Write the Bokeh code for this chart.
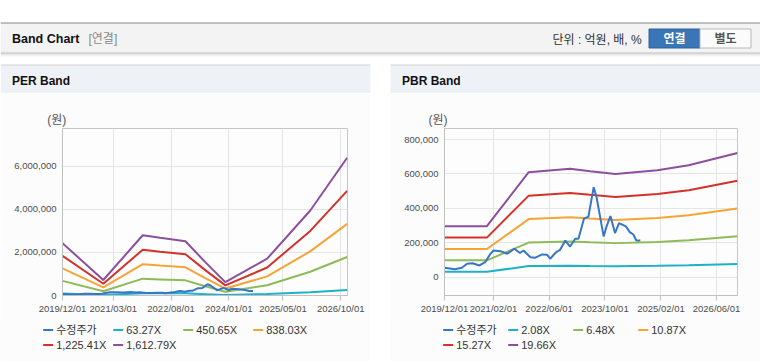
import pandas as pd
from bokeh.plotting import figure
from bokeh.layouts import column, row
from bokeh.models import (Range1d, FixedTicker, DatetimeTickFormatter, NumeralTickFormatter,
                          Label, Spacer)
from bokeh.embed import file_html
from bokeh.resources import INLINE

# ---------------- data ----------------
series_names = ["수정주가"]
per_multiples = ["63.27X", "450.65X", "838.03X", "1,225.41X", "1,612.79X"]
pbr_multiples = ["2.08X", "6.48X", "10.87X", "15.27X", "19.66X"]

per_xtick_labels = ["2019/12/01", "2021/03/01", "2022/08/01", "2024/01/01", "2025/05/01", "2026/10/01"]
pbr_xtick_labels = ["2019/12/01", "2021/02/01", "2022/06/01", "2023/10/01", "2025/02/01", "2026/06/01"]
per_yticks = [0, 2000000, 4000000, 6000000]
pbr_yticks = [0, 200000, 400000, 600000, 800000]

price_dates = ["2019-12-01", "2020-03-01", "2020-05-01", "2020-06-15", "2020-08-01", "2020-10-01",
               "2020-11-20", "2021-01-01", "2021-02-01", "2021-04-01", "2021-06-01", "2021-08-01",
               "2021-09-20", "2021-10-20", "2021-12-20", "2022-02-01", "2022-04-01", "2022-05-15",
               "2022-06-10", "2022-08-01", "2022-09-05", "2022-10-20", "2022-12-01", "2023-01-15",
               "2023-02-12", "2023-04-01", "2023-05-10", "2023-06-25", "2023-07-20", "2023-09-20",
               "2023-10-18", "2023-11-18", "2023-12-28", "2024-02-01", "2024-04-01", "2024-05-05",
               "2024-06-05", "2024-07-01", "2024-08-05"]
price_values = [55000, 46000, 55000, 78000, 81000, 68000, 87000, 132000, 155000, 151000, 136000,
                165000, 140000, 155000, 116000, 113000, 132000, 130000, 107000, 145000, 159000,
                213000, 178000, 223000, 223000, 340000, 352000, 523000, 465000, 237000, 300000,
                355000, 256000, 314000, 295000, 262000, 248000, 213000, 213000]

per_dates = ["2019-12-01", "2020-12-01", "2021-11-20", "2022-04-25", "2022-12-08", "2023-06-04",
             "2023-12-01", "2024-12-10", "2026-01-01", "2026-11-28"]
per_band_1 = [95300, 28200, 109800, 105100, 98900, 60800, 24300, 67100, 155000, 251100]
per_band_2 = [679000, 201000, 782000, 749000, 704000, 433000, 173000, 478000, 1104000, 1788000]
per_band_3 = [1263000, 374000, 1455000, 1393000, 1309000, 805000, 322000, 889000, 2052000, 3326000]
per_band_4 = [1846000, 547000, 2127000, 2036000, 1915000, 1178000, 471000, 1299000, 3001000, 4863000]
per_band_5 = [2430000, 720000, 2800000, 2680000, 2520000, 1550000, 620000, 1710000, 3950000, 6400000]

pbr_dates = ["2019-12-01", "2020-12-05", "2021-12-05", "2022-12-01", "2023-05-25", "2024-01-01",
             "2025-01-01", "2025-10-01", "2026-12-01"]
pbr_band_1 = [31300, 31300, 64500, 66700, 65200, 63500, 65800, 68800, 76400]
pbr_band_2 = [97600, 97600, 201100, 207600, 203000, 197800, 205000, 214200, 238000]
pbr_band_3 = [163700, 163700, 337300, 348300, 340600, 331700, 343900, 359400, 399200]
pbr_band_4 = [229900, 229900, 473800, 489300, 478500, 466000, 483100, 504900, 560800]
pbr_band_5 = [296000, 296000, 610000, 630000, 616000, 600000, 622000, 650000, 722000]

x_start, x_end = "2019-12-01", "2026-12-01"

# ---------------- styles ----------------
COLORS = ["#3776c6", "#1eb1c8", "#8dbb57", "#f5a536", "#d3322a", "#8c4f9e"]
FONT = "Liberation Sans, Noto Sans CJK KR"
PANEL_BG = "#fcfcfc"


def to_ms(s):
    return pd.Timestamp(s.replace("/", "-")).value / 1e6


def band_chart(left_border, ymin, ymax, yticks, xtick_labels, dates, bands, unit_offset):
    p = figure(width=370, height=223, x_axis_type="datetime",
               x_range=Range1d(pd.Timestamp(x_start), pd.Timestamp(x_end)),
               y_range=Range1d(ymin, ymax), output_backend="svg", toolbar_location=None,
               min_border_left=left_border, min_border_right=23, min_border_top=35,
               min_border_bottom=21, background_fill_color="#fdfdfd",
               border_fill_color=PANEL_BG, outline_line_color="#c6c6c6")
    p.title.text = "(원)"
    p.title.align = "left"
    p.title.offset = unit_offset
    p.title.standoff = 4
    p.title.text_font = FONT
    p.title.text_font_size = "12px"
    p.title.text_font_style = "normal"
    p.title.text_color = "#555555"

    p.xaxis.ticker = FixedTicker(ticks=[to_ms(t) for t in xtick_labels])
    fmt = "%Y/%m/%d"
    p.xaxis.formatter = DatetimeTickFormatter(microseconds=fmt, milliseconds=fmt, seconds=fmt,
                                              minsec=fmt, minutes=fmt, hourmin=fmt, hours=fmt,
                                              days=fmt, months=fmt, years=fmt)
    p.yaxis.ticker = FixedTicker(ticks=yticks)
    p.yaxis.formatter = NumeralTickFormatter(format="0,0")
    for ax in (p.xaxis, p.yaxis):
        ax.axis_line_color = "#c0c0c0"
        ax.major_tick_line_color = "#c0c0c0"
        ax.minor_tick_line_color = None
        ax.major_label_text_font = FONT
        ax.major_label_text_font_size = "9.5px"
        ax.major_label_text_color = "#4d4d4d"
    p.xaxis.major_tick_out = 5
    p.xaxis.major_tick_in = 0
    p.xaxis.major_label_standoff = 2
    p.yaxis.major_tick_out = 0
    p.yaxis.major_tick_in = 0
    p.yaxis.major_label_standoff = 6
    p.grid.grid_line_color = "#e6e6e6"
    p.grid.grid_line_width = 1

    for i, vals in enumerate(bands):
        p.line(pd.to_datetime(dates), vals, line_color=COLORS[i + 1], line_width=2)
    p.line(pd.to_datetime(price_dates), price_values, line_color=COLORS[0], line_width=2)
    return p


def legend_panel(panel_x, multiples, legend_x0, legend_col_w):
    lg = figure(width=370, height=45, x_range=Range1d(panel_x, panel_x + 370),
                y_range=Range1d(361, 316), output_backend="svg", toolbar_location=None,
                x_axis_location=None, y_axis_location=None, min_border=0,
                outline_line_color=None, background_fill_color=PANEL_BG,
                border_fill_color=PANEL_BG, title=None)
    lg.grid.visible = False
    names = series_names + multiples
    xs, ys = [], []
    for i in range(len(names)):
        xs.append(legend_x0 + (i % 4) * legend_col_w)
        ys.append(329.5 + (i // 4) * 15)
    lg.segment(x0=xs, x1=[x + 10 for x in xs], y0=ys, y1=ys, line_color=COLORS[:len(names)],
               line_width=2)
    for x, y, name in zip(xs, ys, names):
        lg.add_layout(Label(x=x + 13, y=y, text=name, text_font=FONT, text_font_size="11px",
                            text_color="#333333", text_baseline="middle", text_align="left"))
    return lg


per = band_chart(62, 0, 7760000, per_yticks, per_xtick_labels, per_dates,
                 [per_band_1, per_band_2, per_band_3, per_band_4, per_band_5], -15.3)
pbr = band_chart(54, -106600, 864000, pbr_yticks, pbr_xtick_labels, pbr_dates,
                 [pbr_band_1, pbr_band_2, pbr_band_3, pbr_band_4, pbr_band_5], -16)
per_lg = legend_panel(0, per_multiples, 42.7, 70)
pbr_lg = legend_panel(390, pbr_multiples, 442.7, 65)

# ---------------- header ----------------
h = figure(width=760, height=93, x_range=Range1d(0, 760), y_range=Range1d(93, 0),
           output_backend="svg", toolbar_location=None, x_axis_location=None,
           y_axis_location=None, min_border=0, outline_line_color=None,
           background_fill_color="white", border_fill_color="white", title=None)
h.grid.visible = False
h.quad(left=[0], right=[760], top=[22.5], bottom=[52.5], fill_color="#f3f3f3", line_color=None)
h.segment(x0=[0], x1=[760], y0=[22.5], y1=[22.5], line_color="#acacac", line_width=1.3)
h.segment(x0=[0], x1=[760], y0=[52.5], y1=[52.5], line_color="#c2c2c2", line_width=1)
for k, a in enumerate([0.12, 0.07, 0.035]):
    h.segment(x0=[0], x1=[760], y0=[53.5 + k], y1=[53.5 + k], line_color="black",
              line_alpha=a, line_width=1)
h.quad(left=[648.5], right=[699.5], top=[28.5], bottom=[47.5], fill_color="#3a75b6",
       line_color="#2d64a0", line_width=1)
h.quad(left=[699.5], right=[750.5], top=[28.5], bottom=[47.5], fill_color="#fbfbfb",
       line_color="#b9b9b9", line_width=1)
h.quad(left=[0, 390], right=[370, 760], top=[64.5, 64.5], bottom=[93, 93],
       fill_color="#eef1f6", line_color=None)
h.segment(x0=[0, 390], x1=[370, 760], y0=[64.5, 64.5], y1=[64.5, 64.5], line_color="#d3d3d3",
          line_width=1)
h.quad(left=[0, 390], right=[370, 760], top=[92.5, 92.5], bottom=[93, 93],
       fill_color=PANEL_BG, line_color=None)


def hlabel(x, y, text, size="12px", color="#111111", bold=False, align="left"):
    h.add_layout(Label(x=x, y=y, text=text, text_font=FONT, text_font_size=size,
                       text_color=color, text_font_style="bold" if bold else "normal",
                       text_baseline="middle", text_align=align))


hlabel(11.5, 38, "Band Chart", size="12.5px", bold=True)
hlabel(88, 38.5, "[연결]", color="#888888")
hlabel(552, 39, "단위 : 억원, 배, %", color="#333333")
hlabel(674, 38, "연결", color="white", bold=True, align="center")
hlabel(725, 38, "별도", color="#555555", bold=True, align="center")
hlabel(11.5, 80.5, "PER Band", bold=True)
hlabel(401.5, 80.5, "PBR Band", bold=True)

# ---------------- footer ----------------
f = figure(width=760, height=3, x_range=Range1d(0, 760), y_range=Range1d(3, 0),
           output_backend="svg", toolbar_location=None, x_axis_location=None,
           y_axis_location=None, min_border=0, outline_line_color=None,
           background_fill_color="white", border_fill_color="white", title=None)
f.grid.visible = False
f.quad(left=[0, 390], right=[370, 760], top=[0, 0], bottom=[1, 1], fill_color=PANEL_BG,
       line_color=None)
f.quad(left=[0, 390], right=[370, 760], top=[1, 1], bottom=[3, 3], fill_color="#d6d6d6",
       line_color=None)

root = column(h,
              row(per, Spacer(width=20, height=223), pbr),
              row(per_lg, Spacer(width=20, height=45), pbr_lg),
              f,
              styles={"position": "absolute", "left": "0px", "top": "0px"})

open("out.html", "w").write(file_html(root, INLINE))
